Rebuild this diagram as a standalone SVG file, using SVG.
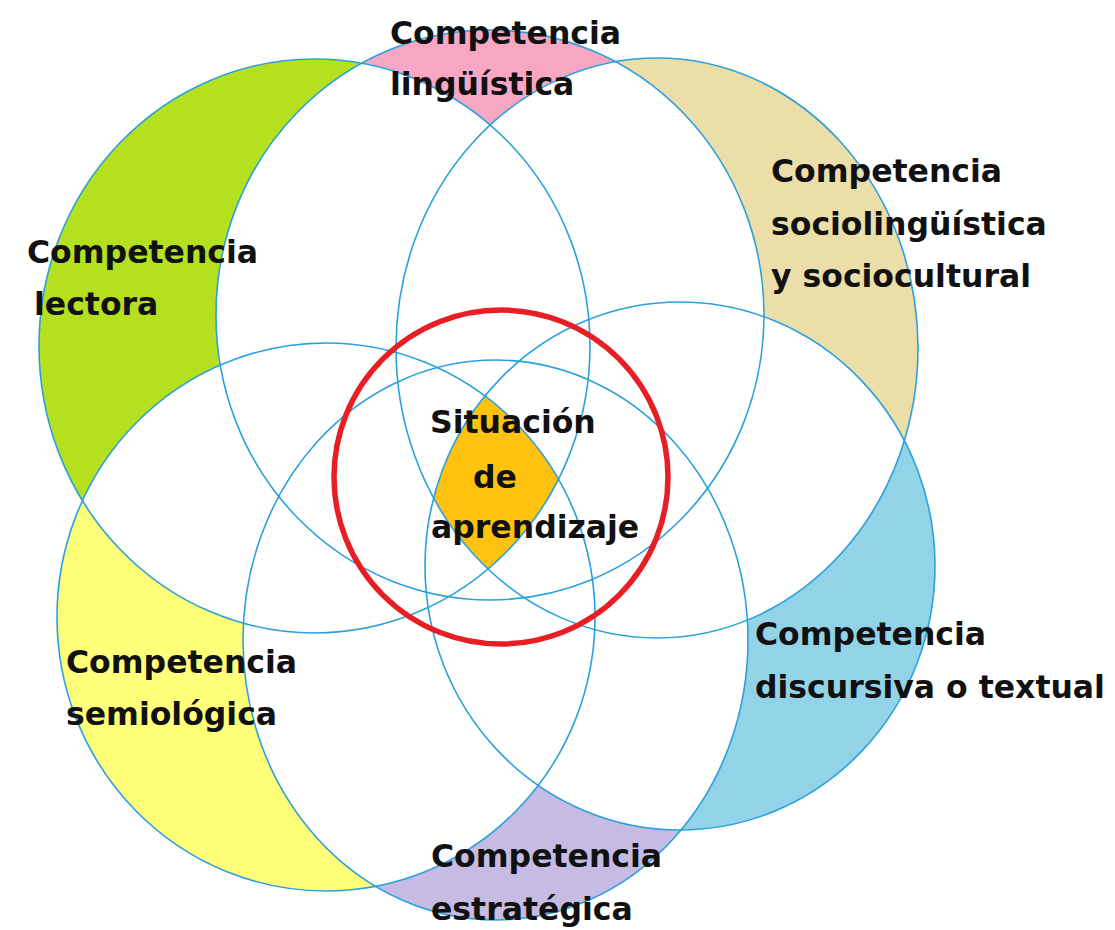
<svg xmlns="http://www.w3.org/2000/svg" width="1115" height="930" viewBox="0 0 1115 930">
<style>
  .ol{fill:none;stroke:#2BA1DB;stroke-width:1.6}
  .lbl{font-family:"DejaVu Sans","Liberation Sans",sans-serif;font-weight:bold;font-size:31.5px;fill:#111}
  .red{fill:none;stroke:#E81E25;stroke-width:5.5}
</style>
<defs>
  <ellipse id="eTop" cx="490" cy="315" rx="274" ry="285"/>
  <ellipse id="eBot" cx="495.5" cy="640" rx="252.5" ry="280"/>
  <ellipse id="eTL" cx="314.5" cy="346" rx="275.5" ry="287"/>
  <ellipse id="eTR" cx="657" cy="348" rx="261" ry="290"/>
  <ellipse id="eBL" cx="326" cy="617" rx="269" ry="274"/>
  <ellipse id="eBR" cx="680" cy="566" rx="255" ry="264"/>

  <mask id="mGreen" maskUnits="userSpaceOnUse" x="0" y="0" width="1115" height="930">
    <use href="#eTL" fill="#fff"/>
    <use href="#eTop" fill="#000"/><use href="#eBL" fill="#000"/><use href="#eTR" fill="#000"/><use href="#eBot" fill="#000"/><use href="#eBR" fill="#000"/>
  </mask>
  <mask id="mPink" maskUnits="userSpaceOnUse" x="0" y="0" width="1115" height="930">
    <use href="#eTop" fill="#fff"/>
    <use href="#eTL" fill="#000"/><use href="#eTR" fill="#000"/><use href="#eBL" fill="#000"/><use href="#eBR" fill="#000"/><use href="#eBot" fill="#000"/>
  </mask>
  <mask id="mBeige" maskUnits="userSpaceOnUse" x="0" y="0" width="1115" height="930">
    <use href="#eTR" fill="#fff"/>
    <use href="#eTop" fill="#000"/><use href="#eBR" fill="#000"/><use href="#eTL" fill="#000"/><use href="#eBot" fill="#000"/><use href="#eBL" fill="#000"/>
  </mask>
  <mask id="mBlue" maskUnits="userSpaceOnUse" x="0" y="0" width="1115" height="930">
    <use href="#eBR" fill="#fff"/>
    <use href="#eBot" fill="#000"/><use href="#eTR" fill="#000"/><use href="#eBL" fill="#000"/><use href="#eTop" fill="#000"/><use href="#eTL" fill="#000"/>
  </mask>
  <mask id="mPurple" maskUnits="userSpaceOnUse" x="0" y="0" width="1115" height="930">
    <use href="#eBot" fill="#fff"/>
    <use href="#eBL" fill="#000"/><use href="#eBR" fill="#000"/><use href="#eTL" fill="#000"/><use href="#eTR" fill="#000"/><use href="#eTop" fill="#000"/>
  </mask>
  <mask id="mYellow" maskUnits="userSpaceOnUse" x="0" y="0" width="1115" height="930">
    <use href="#eBL" fill="#fff"/>
    <use href="#eBot" fill="#000"/><use href="#eTL" fill="#000"/><use href="#eBR" fill="#000"/><use href="#eTop" fill="#000"/><use href="#eTR" fill="#000"/>
  </mask>
  <clipPath id="cTR"><use href="#eTR"/></clipPath>
  <clipPath id="cBL"><use href="#eBL"/></clipPath>
  <clipPath id="cBR"><use href="#eBR"/></clipPath>
</defs>

<rect x="0" y="0" width="1115" height="930" fill="#fff"/>

<g id="competencia-lectora">
  <rect x="0" y="0" width="1115" height="930" fill="#B4E01F" mask="url(#mGreen)"/>
</g>
<g id="competencia-linguistica">
  <rect x="0" y="0" width="1115" height="930" fill="#F7A7C3" mask="url(#mPink)"/>
</g>
<g id="competencia-sociolinguistica">
  <rect x="0" y="0" width="1115" height="930" fill="#ECDEA8" mask="url(#mBeige)"/>
</g>
<g id="competencia-discursiva">
  <rect x="0" y="0" width="1115" height="930" fill="#92D3E8" mask="url(#mBlue)"/>
</g>
<g id="competencia-estrategica">
  <rect x="0" y="0" width="1115" height="930" fill="#C5BBE3" mask="url(#mPurple)"/>
</g>
<g id="competencia-semiologica">
  <rect x="0" y="0" width="1115" height="930" fill="#FFFF79" mask="url(#mYellow)"/>
</g>
<g id="situacion-aprendizaje">
  <g clip-path="url(#cBL)"><g clip-path="url(#cBR)">
    <use href="#eTL" fill="#FFC20F" clip-path="url(#cTR)"/>
  </g></g>
</g>

<g id="outlines">
  <use href="#eTop" class="ol"/>
  <use href="#eBot" class="ol"/>
  <use href="#eTL" class="ol"/>
  <use href="#eTR" class="ol"/>
  <use href="#eBL" class="ol"/>
  <use href="#eBR" class="ol"/>
</g>

<g id="red-circle">
  <circle cx="501" cy="477" r="167" class="red"/>
</g>

<g id="labels">
  <text class="lbl" x="390" y="44">Competencia</text>
  <text class="lbl" x="390" y="95">lingüística</text>
  <text class="lbl" x="27" y="263">Competencia</text>
  <text class="lbl" x="34" y="315">lectora</text>
  <text class="lbl" x="771" y="182">Competencia</text>
  <text class="lbl" x="771" y="235">sociolingüística</text>
  <text class="lbl" x="771" y="287">y sociocultural</text>
  <text class="lbl" x="430" y="433">Situación</text>
  <text class="lbl" x="473" y="488">de</text>
  <text class="lbl" x="431" y="538">aprendizaje</text>
  <text class="lbl" x="66" y="673">Competencia</text>
  <text class="lbl" x="66" y="725">semiológica</text>
  <text class="lbl" x="755" y="645">Competencia</text>
  <text class="lbl" x="755" y="698">discursiva o textual</text>
  <text class="lbl" x="431" y="867">Competencia</text>
  <text class="lbl" x="431" y="920">estratégica</text>
</g>
</svg>
